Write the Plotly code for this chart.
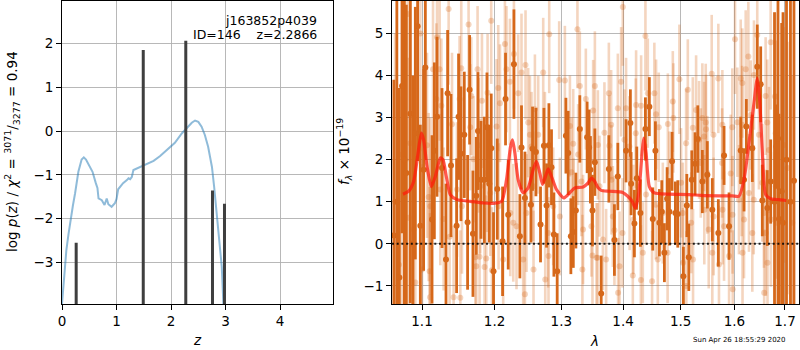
import plotly.graph_objects as go

# ---------------- left panel data: log p(z) ----------------
z_grid = [0.00, 0.04, 0.08, 0.12, 0.16, 0.20, 0.24, 0.30, 0.36, 0.40, 0.44, 0.50, 0.56, 0.62, 0.65,
          0.67, 0.70, 0.73, 0.78, 0.80, 0.82, 0.85, 0.88, 0.91, 0.97, 1.00, 1.03, 1.08, 1.12, 1.19,
          1.22, 1.25, 1.28, 1.31, 1.38, 1.42, 1.46, 1.55, 1.68, 1.80, 1.92, 2.07, 2.20, 2.29, 2.38,
          2.44, 2.50, 2.56, 2.62, 2.68, 2.75, 2.79, 2.84, 2.90, 2.93, 2.96]
log_pz = [-3.95, -3.30, -2.72, -2.35, -1.99, -1.70, -1.42, -0.93, -0.65, -0.60, -0.65, -0.78, -0.93,
          -1.19, -1.30, -1.54, -1.57, -1.58, -1.69, -1.60, -1.54, -1.67, -1.70, -1.73, -1.65, -1.55,
          -1.33, -1.25, -1.19, -1.12, -1.08, -1.10, -1.05, -0.89, -0.85, -0.82, -0.80, -0.75, -0.68,
          -0.57, -0.43, -0.27, -0.05, 0.08, 0.19, 0.24, 0.21, 0.10, -0.09, -0.36, -0.82, -1.27,
          -1.88, -2.57, -3.10, -3.95]
spike_z = [0.26, 1.49, 2.27, 2.76, 2.98]
spike_top = [-2.55, 1.85, 2.06, -1.36, -1.66]

# ---------------- right panel data: spectrum ----------------
dark_wave = [1.0635, 1.0673, 1.0705, 1.0770, 1.0879,
             1.0740, 1.0795, 1.0847, 1.0912, 1.0942, 1.0978, 1.1021, 1.1044, 1.1133, 1.1164,
             1.1200, 1.1267, 1.1321, 1.1343, 1.1389, 1.1466, 1.1493, 1.1526, 1.1572, 1.1618,
             1.1646, 1.1693, 1.1740, 1.1764, 1.1806, 1.1853, 1.1891, 1.1924, 1.1952, 1.1985,
             1.2039, 1.2116, 1.2159, 1.2198, 1.2282, 1.2370, 1.2394, 1.2445, 1.2535, 1.2559,
             1.2610, 1.2680, 1.2732, 1.2772, 1.2808, 1.2848, 1.2885, 1.2936, 1.3072, 1.3108,
             1.3150, 1.3187, 1.3229, 1.3292, 1.3409, 1.3441, 1.3462, 1.3495, 1.3534, 1.3637,
             1.3763, 1.3855, 1.3912, 1.4050, 1.4123, 1.4135, 1.4191, 1.4232, 1.4294, 1.4380,
             1.4448, 1.4507, 1.4553, 1.4623, 1.4665, 1.4711, 1.4759, 1.4800, 1.4847, 1.4906,
             1.4949, 1.5050, 1.5112, 1.5148, 1.5202, 1.5262, 1.5312, 1.5396, 1.5488, 1.5581,
             1.5694, 1.5802, 1.5897, 1.6121, 1.6185, 1.6230, 1.6347, 1.6444, 1.6512, 1.6544,
             1.6643, 1.6711, 1.6824, 1.6878, 1.6933,
             1.6788, 1.6858, 1.6960, 1.7031, 1.7112, 1.7184]
dark_flux = [0.20, 1.00, -0.80, 2.00, 0.00,
             3.75, 1.68, 3.09, 2.63, 5.17, 0.43, 1.76, 4.19, 0.58, 2.21,
             3.02, 1.80, -0.37, 3.58, 1.86, 0.43, 3.02, 2.14, 2.59, 0.51,
             3.66, 0.24, 1.14, 2.68, 1.52, 1.52, 2.77, 1.43, 2.27, -0.65,
             1.30, 0.06, 3.44, 0.69, 4.27, 0.18, 2.29, 1.09, 0.93, 2.26,
             2.18, 0.46, 2.33, 0.91, 2.34, 1.82, 0.22, -0.65, 2.57, 2.16,
             0.18, 0.28, 0.79, 2.73, 2.53, 2.29, 1.76, 0.79, 1.94, -1.18,
             1.78, 0.09, 1.60, 2.21, 2.87, 1.43, 0.48, 1.56, 0.73, 2.73,
             3.26, 0.59, 2.21, 0.50, 0.76, -0.21, 1.07, 0.76, 1.96, 0.73,
             0.71, -0.77, 0.91, -0.32, 1.52, 1.90, 2.49, 1.48, 1.64, 0.81,
             0.26, 2.10, 0.42, 2.22, 1.52, 2.79, 2.27, 4.21, 3.79, 1.03,
             0.85, 1.48, 2.31, 0.59, 1.25,
             1.00, 2.50, 0.50, 2.00, 1.00, 1.50]
dark_err = [3.7, 4.8, 4.5, 4.5, 4.0,
            3.5, 4.0, 4.5, 3.0, 3.2, 2.4, 2.4, 2.2, 2.0, 2.1,
            1.9, 1.9, 1.8, 1.5, 1.7, 1.6, 1.5, 1.6, 1.5, 1.6,
            1.3, 1.5, 1.4, 1.4, 1.4, 1.5, 1.3, 1.4, 1.3, 1.4,
            1.2, 1.3, 1.1, 1.3, 1.3, 1.0, 1.0, 1.1, 0.9, 1.0,
            1.05, 0.9, 0.9, 1.0, 1.0, 0.9, 1.0, 0.9, 0.9, 1.0,
            0.9, 0.85, 0.9, 0.8, 0.85, 0.9, 0.8, 0.85, 0.8, 0.9,
            0.8, 0.85, 0.8, 0.75, 0.8, 0.75, 0.8, 0.75, 0.8, 0.75,
            0.7, 0.75, 0.7, 0.8, 0.75, 0.7, 0.75, 0.8, 0.7, 0.75,
            0.8, 0.7, 0.75, 0.8, 0.7, 0.75, 0.8, 0.75, 0.8, 0.75,
            0.8, 0.7, 0.8, 0.8, 0.75, 0.65, 0.8, 1.0, 0.9, 0.85,
            0.9, 1.0, 1.0, 2.5, 4.0,
            4.5, 4.5, 5.0, 5.0, 5.0, 5.0]

light_wave = [1.0650, 1.0700,
              1.0812, 1.0978, 1.1200, 1.1357, 1.1146, 1.1235, 1.1632, 1.1952, 1.1191, 1.1258,
              1.1403, 1.1507, 1.1530, 1.1669, 1.1758, 1.1820, 1.1900, 1.1655, 1.1772, 1.1066,
              1.1701, 1.1891, 1.1796, 1.1938, 1.1244, 1.1471, 1.1088, 1.1110, 1.1540, 1.0825,
              1.1289, 1.0890, 1.1370, 1.1726, 1.1786, 1.1881, 1.1740, 1.1857, 1.1962, 1.1000,
              1.1101, 1.0912, 1.1106, 1.1425, 1.1517, 1.0740, 1.0847,
              1.2150, 1.2173, 1.2053, 1.2078, 1.2029, 1.2282, 1.2345, 1.2454, 1.2394, 1.2223,
              1.2494, 1.2520, 1.2595, 1.2645, 1.2544, 1.2721, 1.2813, 1.2747, 1.3056, 1.2967,
              1.3187, 1.3254, 1.3292, 1.3388, 1.3534, 1.3506, 1.3160, 1.3265, 1.3318, 1.3135,
              1.2874, 1.2569, 1.2228, 1.2272, 1.2320, 1.2058, 1.2469, 1.2797, 1.2978, 1.3192,
              1.3344, 1.3478, 1.2125, 1.2419, 1.2802, 1.2574, 1.2752, 1.2445, 1.3333, 1.3495,
              1.3560,
              1.3995, 1.4380, 1.3967, 1.3763, 1.3912, 1.4050, 1.4220, 1.4306, 1.4421, 1.4535,
              1.4565, 1.4860, 1.4978, 1.5130, 1.5281, 1.3690, 1.3801, 1.3770, 1.3583, 1.4022,
              1.4215, 1.4106, 1.4612, 1.4772, 1.4870, 1.5221, 1.5099, 1.3609, 1.3806, 1.3829,
              1.3855, 1.3665, 1.3990, 1.4110, 1.4174, 1.4391, 1.4560, 1.4683, 1.4800, 1.5039,
              1.5008, 1.5191, 1.3578, 1.3718, 1.3940, 1.4335, 1.4595, 1.4768, 1.5043, 1.5225,
              1.3916, 1.4164, 1.4302, 1.4495, 1.5103,
              1.6011, 1.6444, 1.6711, 1.6269, 1.5570, 1.5694, 1.6121, 1.6152, 1.6218, 1.6379,
              1.6797, 1.6610, 1.5396, 1.5459, 1.5463, 1.5602, 1.5428, 1.5336, 1.5770, 1.5959,
              1.6056, 1.6148, 1.6315, 1.6643, 1.6477, 1.6677, 1.6811, 1.6980, 1.5367, 1.5488,
              1.5765, 1.5929, 1.6140, 1.6281, 1.6375, 1.6544, 1.6815, 1.5432, 1.5606, 1.5774,
              1.5963, 1.6087, 1.6185, 1.6577, 1.5514, 1.5802, 1.6347, 1.6614, 1.6715, 1.5581,
              1.5706, 1.5897, 1.6156, 1.6647, 1.5967, 1.6581,
              1.7050, 1.7150]
light_flux = [1.00, -0.50,
              5.46, 5.00, 4.91, 5.58, 4.15, 4.15, 5.21, 5.30, 3.44, 3.28,
              2.84, 3.44, 4.17, 3.51, 4.15, 3.40, 3.59, 2.77, 2.34, 2.34,
              2.01, 1.68, 1.37, 1.21, 1.29, 1.29, 1.11, 0.89, 0.89, 0.62,
              0.59, 0.34, 0.17, -0.32, -0.31, -0.35, -0.53, -0.55, -0.63, -0.61,
              -0.65, -0.92, -1.27, -1.27, -1.28, 2.12, 2.39,
              4.75, 4.15, 3.70, 3.34, 2.79, 4.51, 3.58, 4.25, 4.07, 3.85,
              2.88, 2.59, 3.20, 2.59, 2.31, 4.07, 4.98, 2.31, 3.88, 3.89,
              2.38, 5.10, 3.75, 3.44, 3.75, 3.17, 1.70, 2.12, 1.48, 2.80,
              0.89, 1.37, 0.73, 0.50, 0.42, 0.89, 0.73, 0.26, 0.65, 0.73,
              0.34, 0.42, -0.37, -0.37, -0.29, -0.61, -0.85, -1.20, -0.61, -0.28,
              -0.33,
              5.63, 4.94, 3.85, 3.58, 3.22, 3.22, 3.30, 3.28, 3.58, 3.58,
              3.08, 3.38, 3.91, 3.66, 3.18, 2.64, 2.83, 2.33, 2.35, 2.47,
              2.63, 2.31, 2.77, 2.85, 2.99, 2.76, 2.39, 1.37, 1.52, 0.65,
              0.32, 0.10, 0.26, 1.05, 0.58, 1.17, 0.93, 0.73, 1.37, 0.73,
              1.45, 0.50, -0.33, -0.37, -0.53, -0.21, -0.37, -0.21, -0.45, -0.37,
              -1.16, -0.75, -0.86, -0.89, -1.00,
              4.86, 4.96, 4.79, 4.45, 4.04, 3.93, 3.93, 3.82, 4.15, 4.01,
              3.50, 3.51, 2.99, 2.88, 2.72, 2.59, 2.55, 2.47, 2.83, 2.77,
              2.89, 2.83, 3.06, 2.88, 2.59, 2.23, 2.63, 2.35, 1.92, 1.64,
              1.92, 1.67, 1.48, 1.21, 1.05, 1.45, 1.37, 0.81, 0.65, 0.81,
              0.69, 1.05, 0.58, 0.73, 0.34, 0.42, 0.26, 0.26, 0.58, -0.21,
              -0.49, -0.29, -0.21, -0.45, -1.08, -1.16,
              1.80, 0.50]
light_err = [4.0, 4.0,
             3.5, 2.8, 1.9, 1.8, 1.9, 1.7, 1.6, 1.5, 1.8, 1.6,
             1.7, 1.5, 1.6, 1.4, 1.5, 1.6, 1.4, 1.5, 1.6, 2.2,
             1.5, 1.4, 1.6, 1.5, 1.8, 1.6, 2.0, 2.1, 1.6, 3.8,
             1.7, 3.5, 1.6, 1.5, 1.4, 1.5, 1.6, 1.4, 1.5, 2.5,
             2.0, 3.0, 2.0, 1.7, 1.6, 4.0, 3.6,
             1.4, 1.5, 1.5, 1.4, 1.6, 1.3, 1.4, 1.3, 1.4, 1.5,
             1.3, 1.4, 1.3, 1.4, 1.3, 1.3, 1.4, 1.3, 1.3, 1.4,
             1.3, 1.4, 1.3, 1.2, 1.3, 1.2, 1.3, 1.2, 1.3, 1.2,
             1.4, 1.3, 1.5, 1.4, 1.5, 1.5, 1.4, 1.3, 1.4, 1.3,
             1.3, 1.2, 1.5, 1.4, 1.4, 1.4, 1.3, 1.4, 1.3, 1.2,
             1.3,
             1.4, 1.3, 1.3, 1.2, 1.3, 1.2, 1.3, 1.2, 1.3, 1.2,
             1.3, 1.2, 1.3, 1.2, 1.3, 1.2, 1.3, 1.2, 1.3, 1.2,
             1.3, 1.2, 1.3, 1.2, 1.3, 1.2, 1.3, 1.2, 1.3, 1.2,
             1.3, 1.2, 1.3, 1.2, 1.3, 1.2, 1.3, 1.2, 1.3, 1.2,
             1.3, 1.2, 1.3, 1.2, 1.3, 1.2, 1.3, 1.2, 1.3, 1.2,
             1.3, 1.2, 1.3, 1.2, 1.3,
             1.3, 1.4, 1.6, 1.3, 1.4, 1.3, 1.4, 1.3, 1.4, 1.3,
             2.0, 1.4, 1.3, 1.4, 1.3, 1.4, 1.3, 1.4, 1.3, 1.4,
             1.3, 1.4, 1.3, 1.5, 1.3, 1.5, 2.2, 2.8, 1.3, 1.4,
             1.3, 1.4, 1.3, 1.4, 1.3, 1.4, 2.2, 1.3, 1.4, 1.3,
             1.4, 1.3, 1.4, 1.3, 1.4, 1.3, 1.4, 1.5, 1.6, 1.3,
             1.4, 1.3, 1.4, 1.5, 1.4, 1.5,
             3.0, 3.5]

model_wave = [1.0752, 1.0825, 1.0890, 1.0942, 1.0991, 1.1021, 1.1066, 1.1123, 1.1177, 1.1244,
              1.1280, 1.1325, 1.1379, 1.1471, 1.1655, 1.1842, 1.1981, 1.2101, 1.2173, 1.2232,
              1.2261, 1.2296, 1.2345, 1.2419, 1.2494, 1.2569, 1.2619, 1.2670, 1.2710, 1.2756,
              1.2797, 1.2848, 1.2925, 1.3040, 1.3107, 1.3213, 1.3345, 1.3425, 1.3478, 1.3533,
              1.3587, 1.3636, 1.3772, 1.3995, 1.4079, 1.4152, 1.4208, 1.4266, 1.4322, 1.4351,
              1.4391, 1.4448, 1.4535, 1.4798, 1.5157, 1.5371, 1.5706, 1.5959, 1.6087, 1.6184,
              1.6281, 1.6379, 1.6444, 1.6491, 1.6543, 1.6610, 1.6710, 1.6877, 1.7025]
model_flux = [1.18, 1.25, 1.48, 2.08, 2.63, 2.47, 1.84, 1.36, 1.60, 2.04,
              2.00, 1.60, 1.17, 1.05, 1.01, 0.97, 0.96, 1.01, 1.52, 2.31,
              2.47, 2.16, 1.52, 1.21, 1.33, 1.76, 1.96, 1.68, 1.41, 1.60,
              1.78, 1.60, 1.29, 1.09, 1.17, 1.33, 1.35, 1.45, 1.56, 1.48,
              1.33, 1.27, 1.25, 1.22, 1.13, 1.01, 0.85, 1.21, 2.16, 2.51,
              2.16, 1.36, 1.21, 1.18, 1.17, 1.15, 1.14, 1.14, 1.13, 1.52,
              2.39, 3.34, 3.93, 3.42, 2.23, 1.17, 1.07, 1.05, 1.03]

left_xticks = [0, 1, 2, 3, 4]
left_yticks = [-3, -2, -1, 0, 1, 2]
right_xticks = [1.1, 1.2, 1.3, 1.4, 1.5, 1.6, 1.7]
right_yticks = [-1, 0, 1, 2, 3, 4, 5]

DARK = "rgb(214,104,26)"
LIGHT = "rgba(214,104,26,0.28)"
FONT = "DejaVu Sans"

fig = go.Figure()

# left panel
fig.add_trace(go.Scatter(x=z_grid, y=log_pz, mode="lines",
                         line=dict(color="rgba(31,119,180,0.5)", width=2),
                         xaxis="x", yaxis="y", showlegend=False, hoverinfo="skip"))
sx, sy = [], []
for zz, tt in zip(spike_z, spike_top):
    sx += [zz, zz, None]
    sy += [-10, tt, None]
fig.add_trace(go.Scatter(x=sx, y=sy, mode="lines", line=dict(color="#3f3f3f", width=3),
                         xaxis="x", yaxis="y", showlegend=False, hoverinfo="skip"))

# right panel
fig.add_trace(go.Scatter(x=light_wave, y=light_flux, mode="markers",
                         marker=dict(color=LIGHT, size=6, line=dict(width=0)),
                         error_y=dict(type="data", array=light_err, visible=True,
                                      thickness=2.6, width=0, color=LIGHT),
                         xaxis="x2", yaxis="y2", showlegend=False, hoverinfo="skip"))
fig.add_trace(go.Scatter(x=dark_wave, y=dark_flux, mode="markers",
                         marker=dict(color=DARK, size=6, line=dict(width=0)),
                         error_y=dict(type="data", array=dark_err, visible=True,
                                      thickness=2.8, width=0, color=DARK),
                         xaxis="x2", yaxis="y2", showlegend=False, hoverinfo="skip"))
fig.add_trace(go.Scatter(x=model_wave, y=model_flux, mode="lines",
                         line=dict(color="rgba(255,25,10,0.72)", width=3.2, shape="spline", smoothing=0.6),
                         xaxis="x2", yaxis="y2", showlegend=False, hoverinfo="skip"))

fig.add_shape(type="line", xref="x2 domain", yref="y2", x0=0, x1=1, y0=0, y1=0,
              line=dict(color="rgba(0,0,0,0.85)", width=2, dash="2px,2.7px"), layer="above")

axis_common = dict(showline=True, mirror=True, linecolor="black", linewidth=1,
                   ticks="outside", ticklen=5, tickwidth=1, tickcolor="black",
                   showgrid=True, gridcolor="#b0b0b0", gridwidth=0.9, zeroline=False,
                   tickfont=dict(family=FONT, size=13.5, color="black"), automargin=False)

def fmt(v):
    s = ("%g" % v)
    return s.replace("-", "\u2212")

fig.update_layout(
    width=800, height=350, margin=dict(l=0, r=0, t=0, b=0),
    paper_bgcolor="white", plot_bgcolor="white",
    font=dict(family=FONT, color="black"),
    xaxis=dict(domain=[62/800, 333/800], range=[0, 4.97], anchor="y",
               tickvals=left_xticks, ticktext=[fmt(v) for v in left_xticks], **axis_common),
    yaxis=dict(domain=[46/350, 349/350], range=[-3.95, 2.97], anchor="x",
               tickvals=left_yticks, ticktext=[fmt(v) for v in left_yticks], **axis_common),
    xaxis2=dict(domain=[392/800, 799/800], type="log", range=[0.02576, 0.23775], anchor="y2",
                tickvals=right_xticks, ticktext=[fmt(v) for v in right_xticks], **axis_common),
    yaxis2=dict(domain=[46/350, 349/350], range=[-1.43, 5.77], anchor="x2",
                tickvals=right_yticks, ticktext=[fmt(v) for v in right_yticks], **axis_common),
)

nb = "\u00a0"
ann = [
    dict(text="j163852p4039", x=318.5/800, y=(350-20)/350, xanchor="right", yanchor="middle",
         font=dict(size=12.5)),
    dict(text="ID=146" + nb*4 + "z=2.2866", x=318.5/800, y=(350-35)/350, xanchor="right",
         yanchor="middle", font=dict(size=12.5)),
    dict(text="log <i>p</i>(<i>z</i>) / <i>χ</i><sup>2</sup> = <sup>3071</sup>/<sub>3277</sub> = 0.94",
         x=12/800, y=(350-152)/350, textangle=-90, xanchor="center", yanchor="middle",
         font=dict(size=13.5)),
    dict(text="<i>f</i><sub><i>λ</i></sub> × 10<sup>−19</sup>", x=344/800, y=(350-152)/350,
         textangle=-90, xanchor="center", yanchor="middle", font=dict(size=13.5)),
    dict(text="<i>z</i>", x=197/800, y=(350-340)/350, xanchor="center", yanchor="middle",
         font=dict(size=13.5)),
    dict(text="<i>λ</i>", x=594/800, y=(350-341)/350, xanchor="center", yanchor="middle",
         font=dict(size=13.5)),
    dict(text="Sun Apr 26 18:55:29 2020", x=788/800, y=(350-339.5)/350, xanchor="right",
         yanchor="middle", font=dict(size=7)),
]
for a in ann:
    a.update(xref="paper", yref="paper", showarrow=False)
    a.setdefault("font", {})
    a["font"].update(family=FONT, color="black")
    fig.add_annotation(**a)

fig.write_html("out.html", config={"displayModeBar": False, "staticPlot": True},
               post_script="document.body.style.margin='0';document.body.style.overflow='hidden';")
